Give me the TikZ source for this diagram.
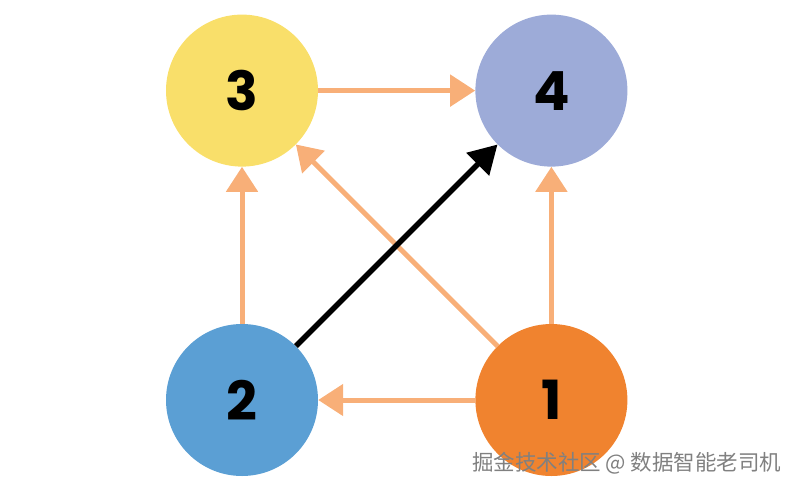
\documentclass[tikz,border=0pt]{standalone}
\usepackage{fontspec}
\setmainfont{Poppins}
\newfontfamily\cjk{Noto Sans CJK SC}
\usepackage{xcolor}
\usetikzlibrary{arrows.meta,positioning}

\definecolor{vyellow}{HTML}{F9DF6A}
\definecolor{vlilac}{HTML}{9DABD8}
\definecolor{vblue}{HTML}{5B9FD4}
\definecolor{vorange}{HTML}{F0832F}
\definecolor{arrorange}{HTML}{F8AF78}

\begin{document}
\begin{tikzpicture}[x=1pt, y=1pt,
  vtx/.style={circle, inner sep=0pt, minimum size=152pt,
              font=\fontsize{54}{54}\selectfont\bfseries},
  arr/.style={line width=5pt, draw=arrorange,
              -{Triangle[length=25pt, width=31pt]}},
  key/.style={line width=5.5pt, draw=black,
              -{Triangle[length=28pt, width=31pt]}}
]
\useasboundingbox (0,0) rectangle (798,-490);

\node[vtx, fill=vblue] (n2) at (242,-400) {2};
\node[vtx, fill=vorange, right=157pt of n2] (n1) {1};
\node[vtx, fill=vyellow, above=157pt of n2] (n3) {3};
\node[vtx, fill=vlilac, above=157pt of n1] (n4) {4};

% edges
\draw[arr] (n3) -- (n4);
\draw[arr] (n2) -- (n3);
\draw[arr] (n1) -- (n4);
\draw[arr] (n1) -- (n2);
\draw[arr] (n1) -- (n3);
\draw[key] (n2) -- (n4);

\node[font=\cjk\fontsize{21.5}{21.5}\selectfont, text=gray, anchor=east] (wm) at (785,-463)
  {掘金技术社区 @ 数据智能老司机};
\end{tikzpicture}
\end{document}
